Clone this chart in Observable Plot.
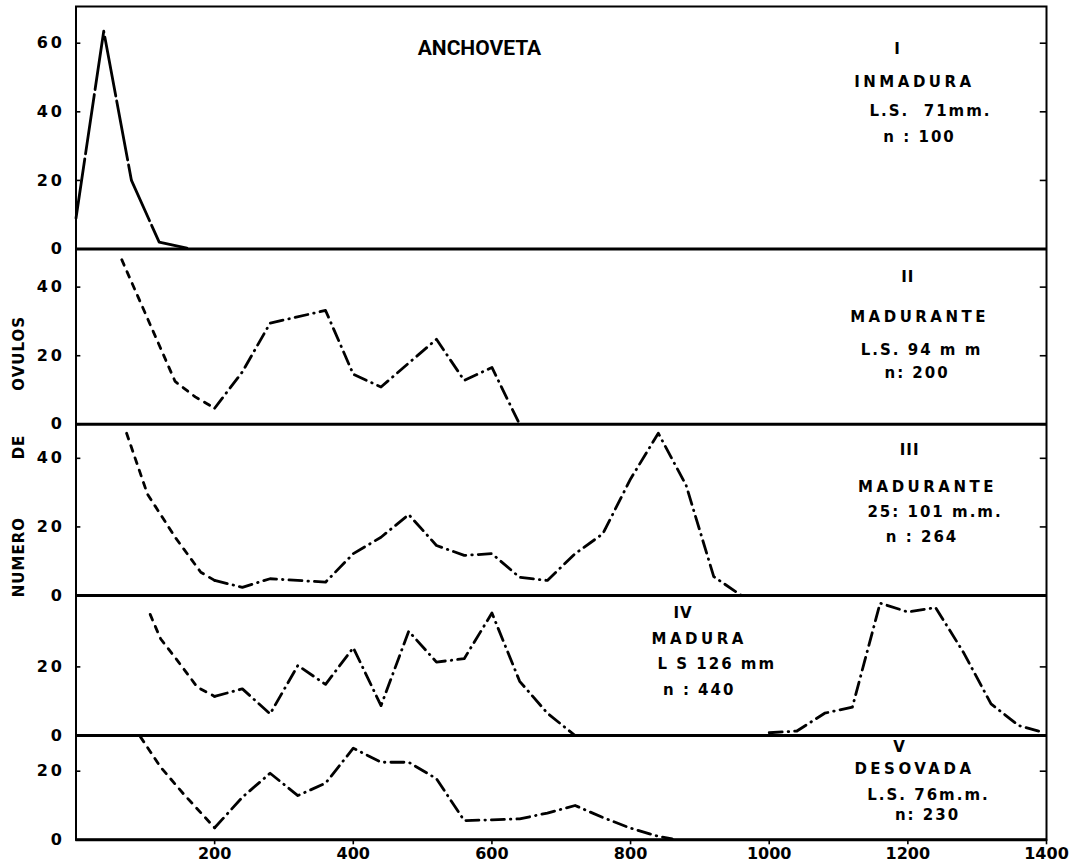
<!DOCTYPE html>
<html><head><meta charset="utf-8">
<script src="https://cdn.jsdelivr.net/npm/d3@7"></script>
<script src="https://cdn.jsdelivr.net/npm/@observablehq/plot@0.6"></script>
<style>
html,body{margin:0;padding:0;background:#fff;}
#chart svg{display:block;}
g[aria-label="y-axis tick label"] text{letter-spacing:3px;}
text[aria-label="note-stage"]{letter-spacing:3.5px;}
text[aria-label="note-info"]{letter-spacing:2px;}
text[aria-label="note-num"]{letter-spacing:1px;}
text[aria-label="axis-title"]{letter-spacing:1px;}
</style></head><body><div id="chart"></div>
<script>
// ---- data ----
const lengthsI   = [0, 40, 80, 120, 160];
const countsI    = [9, 63.5, 20, 2, 0.3];

const lengthsII  = [66, 143, 172, 200, 240, 280, 360, 400, 440, 520, 560, 600, 640];
const countsII   = [48, 12.5, 8, 4.7, 15.3, 29.5, 33.2, 14.6, 10.9, 24.8, 12.8, 16.6, 0];

const lengthsIII = [73, 103, 143, 180, 200, 240, 280, 360, 400, 440, 480, 520, 560, 600, 640, 680, 720, 760, 800, 840, 880, 920, 960];
const countsIII  = [47.3, 29.6, 17, 6.8, 4.4, 2.4, 4.9, 3.9, 12.2, 17, 23.6, 14.6, 11.7, 12.2, 5.3, 4.4, 12.2, 18, 34, 47.3, 32.2, 5.5, 0];

const lengthsIV  = [107, 122, 148, 175, 200, 240, 280, 320, 360, 400, 440, 480, 520, 560, 600, 640, 680, 720, 1000, 1040, 1080, 1120, 1160, 1200, 1240, 1280, 1320, 1360, 1390];
const countsIV   = [35.3, 28.2, 21.4, 14.1, 11.4, 13.6, 6.3, 20.4, 14.9, 25.6, 8.7, 30.4, 21.4, 22.4, 35.7, 15.8, 6.5, 0, 0.8, 1.3, 6.5, 8.3, 38.6, 36, 37.3, 24.3, 9.2, 2.9, 1.2];

const lengthsV   = [93, 122, 155, 200, 240, 280, 320, 360, 400, 440, 480, 520, 560, 600, 640, 680, 720, 760, 800, 840, 860];
const countsV    = [30, 21.2, 13.4, 3.5, 12.4, 19.4, 12.9, 16.5, 26.7, 22.6, 22.6, 17.8, 5.6, 5.8, 6.1, 7.8, 10, 6.5, 3.4, 1, 0.3];

const panelNames    = ["I", "II", "III", "IV", "V"];
const stageLabels   = ["INMADURA", "MADURANTE", "MADURANTE", "MADURA", "DESOVADA"];
const sizeLabels    = ["L.S.  71mm.", "L.S. 94 m m", "25: 101 m.m.", "L S 126 mm", "L.S. 76m.m."];
const nLabels       = ["n : 100", "n: 200", "n : 264", "n : 440", "n: 230"];
const yTicksByPanel = [[0, 20, 40, 60], [0, 20, 40], [0, 20, 40], [0, 20], [0, 20]];
const xTicks        = [200, 400, 600, 800, 1000, 1200, 1400];
const titleText     = "ANCHOVETA";
const axisWords     = ["NUMERO", "DE", "OVULOS"];

// ---- layout (stacked panels on one y scale) ----
const panelBase = [172.2, 121.1, 71.2, 30.4, 0];
const yTop = 242.9;
const notePos = [
  [[1185, 58.3], [1209.5, 48.6], [1232.7, 40.3], [1216.9, 32.5]],
  [[1200, 42.9], [1216.9, 31.2], [1219.7, 21.6], [1213.3, 14.8]],
  [[1202.5, 42.3], [1228.4, 31.7], [1239.2, 24.4], [1220.5, 17.1]],
  [[875.8, 35.7], [899, 28.2], [924.4, 20.9], [899, 13.1]],
  [[1188, 27], [1209.5, 20.7], [1229.8, 12.9], [1228.4, 7.1]]
];
const noteKinds = ["note-num", "note-stage", "note-info", "note-info"];
const axisWordY = [82.4, 114.5, 141.8];

const series = [[lengthsI, countsI], [lengthsII, countsII], [lengthsIII, countsIII], [lengthsIV, countsIV], [lengthsV, countsV]];
// a run of zero counts (IV, 720-1000) is not drawn: split into separate runs
const rows = series.flatMap(([L, C], p) => L.map((x, i) => ({panel: p, run: p * 10 + (p === 3 && x >= 1000 ? 1 : 0), length: x, count: C[i]})));
const Y = d => panelBase[d.panel] + d.count;

const yTickPos = yTicksByPanel.flatMap((ts, p) => ts.map(t => panelBase[p] + t));
const panelOf = v => { let best = 0, bv = -Infinity; panelBase.forEach((b, i) => { if (b <= v + 1e-6 && b > bv) { bv = b; best = i; } }); return best; };
const yLabel = v => String(Math.round(v - panelBase[panelOf(v)]));

const notes = panelNames.flatMap((nm, p) =>
  [nm, stageLabels[p], sizeLabels[p], nLabels[p]].map((t, j) => ({text: t, kind: noteKinds[j], x: notePos[p][j][0], y: panelBase[p] + notePos[p][j][1]})));
const words = axisWords.map((w, i) => ({text: w, y: axisWordY[i]}));

const sw = 2.8;
const chart = Plot.plot({
  width: 1078, height: 868,
  marginLeft: 75.5, marginRight: 32, marginTop: 6, marginBottom: 28.7,
  x: {domain: [0, 1400]},
  y: {domain: [0, yTop]},
  style: {fontFamily: "DejaVu Sans", background: "#fff", color: "#000", overflow: "visible"},
  marks: [
    Plot.line(rows.filter(d => d.panel === 0), {x: "length", y: Y, stroke: "#000", strokeWidth: sw, strokeLinecap: "round", strokeDasharray: "60,5"}),
    Plot.line(rows.filter(d => d.panel > 0 && d.length <= 200), {x: "length", y: Y, z: "run", stroke: "#000", strokeWidth: sw, strokeLinecap: "round", strokeDasharray: "6,7"}),
    Plot.line(rows.filter(d => d.panel > 0 && d.length >= 200), {x: "length", y: Y, z: "run", stroke: "#000", strokeWidth: sw, strokeLinecap: "round", strokeDasharray: "13,6,0.5,6"}),
    Plot.ruleY(panelBase, {stroke: "#000", strokeWidth: 3}),
    Plot.frame({stroke: "#000", strokeWidth: 2}),
    Plot.ruleY(yTickPos, {x1: 0, x2: 7, stroke: "#000", strokeWidth: 1.6}),
    Plot.ruleY(yTickPos, {x1: 1391, x2: 1400, stroke: "#000", strokeWidth: 1.6}),
    Plot.axisY(yTickPos, {tickSize: 0, tickPadding: 11, tickFormat: yLabel, fontSize: 16, fontWeight: "bold", label: null}),
    Plot.axisX(xTicks, {tickSize: 5, tickPadding: 3, tickFormat: d => String(d), fontSize: 16, fontWeight: "bold", label: null, strokeWidth: 1.6}),
    Plot.text([titleText], {x: 582, y: panelBase[0] + 58.4, text: d => d, fontFamily: "Roboto", fontWeight: "bold", fontSize: 21}),
    Plot.text(notes, {x: "x", y: "y", text: "text", fontSize: 15, fontWeight: "bold", ariaLabel: "kind"}),
    Plot.text(words, {x: 0, y: "y", text: "text", dx: -57, rotate: -90, fontSize: 15, fontWeight: "bold", ariaLabel: () => "axis-title"})
  ]
});
document.getElementById("chart").appendChild(chart);
</script></body></html>
